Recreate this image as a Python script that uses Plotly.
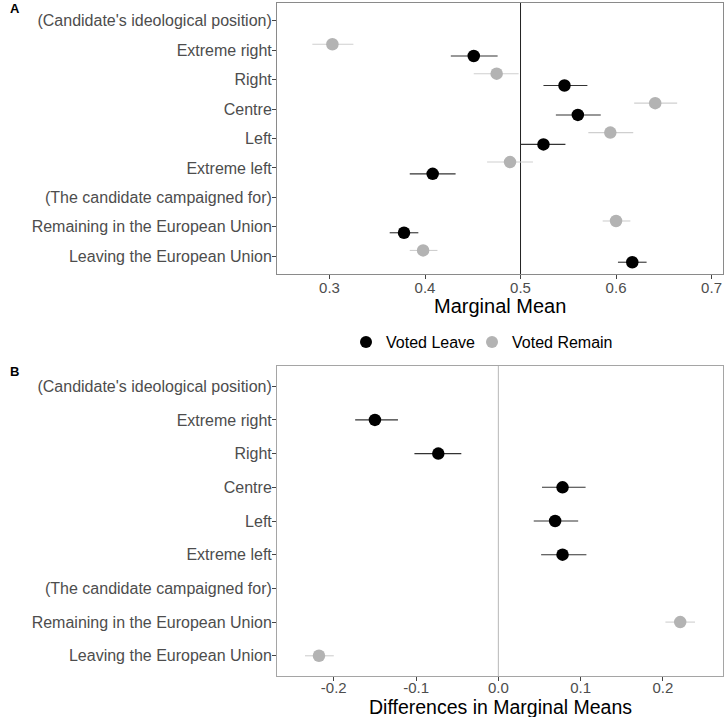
import plotly.graph_objects as go

# ---------------- data ----------------
categories = [
    "(Candidate's ideological position)",
    "Extreme right",
    "Right",
    "Centre",
    "Left",
    "Extreme left",
    "(The candidate campaigned for)",
    "Remaining in the European Union",
    "Leaving the European Union",
]
attribute = ["ideology"] * 6 + ["eu"] * 3

# Panel A: marginal means
leave_mm = [None, 0.451, 0.546, 0.560, 0.524, 0.408, None, 0.378, 0.617]
leave_lo = [None, 0.427, 0.524, 0.537, 0.500, 0.384, None, 0.363, 0.602]
leave_hi = [None, 0.476, 0.570, 0.584, 0.547, 0.432, None, 0.393, 0.632]

remain_mm = [None, 0.303, 0.475, 0.641, 0.594, 0.489, None, 0.600, 0.398]
remain_lo = [None, 0.282, 0.451, 0.619, 0.571, 0.465, None, 0.586, 0.384]
remain_hi = [None, 0.325, 0.498, 0.664, 0.618, 0.513, None, 0.615, 0.413]

# Panel B: differences in marginal means
diff_mm = [None, -0.150, -0.073, 0.078, 0.069, 0.078, None, 0.221, -0.218]
diff_lo = [None, -0.174, -0.102, 0.053, 0.043, 0.052, None, 0.203, -0.235]
diff_hi = [None, -0.122, -0.045, 0.106, 0.097, 0.107, None, 0.239, -0.200]

a_ticks = [0.3, 0.4, 0.5, 0.6, 0.7]
a_ticktext = ["0.3", "0.4", "0.5", "0.6", "0.7"]
b_ticks = [-0.2, -0.1, 0.0, 0.1, 0.2]
b_ticktext = ["-0.2", "-0.1", "0.0", "0.1", "0.2"]

# ---------------- style ----------------
FONT = "Liberation Sans, Arial, Helvetica, sans-serif"
BLACK = "#000000"
GREY = "#b3b3b3"
BLACK_ERR = "#333333"
GREY_ERR = "#cfcfcf"
DODGE = 0.2

W, H = 724, 717
n = len(categories)
ypos = [n - 1 - i for i in range(n)]


def err(mm, lo, hi):
    plus = [None if m is None else h - m for m, h in zip(mm, hi)]
    minus = [None if m is None else m - l for m, l in zip(mm, lo)]
    return plus, minus


fig = go.Figure()

# Panel A traces (each series in its own legend box so the two keys sit close)
for name, mm, lo, hi, col, ecol, off, leg in [
    ("Voted Leave", leave_mm, leave_lo, leave_hi, BLACK, BLACK_ERR, -DODGE, "legend"),
    ("Voted Remain", remain_mm, remain_lo, remain_hi, GREY, GREY_ERR, DODGE, "legend2"),
]:
    p, m = err(mm, lo, hi)
    fig.add_trace(go.Scatter(
        x=mm, y=[y + off for y in ypos], mode="markers", name=name,
        marker=dict(color=col, size=12.5),
        error_x=dict(type="data", array=p, arrayminus=m, color=ecol,
                     thickness=1.1, width=0, symmetric=False),
        xaxis="x", yaxis="y", showlegend=True, legend=leg,
    ))

# Panel B traces (split by attribute colour)
for attr, col, ecol in [("ideology", BLACK, BLACK_ERR), ("eu", GREY, GREY_ERR)]:
    xs = [v if a == attr else None for v, a in zip(diff_mm, attribute)]
    los = [v if a == attr else None for v, a in zip(diff_lo, attribute)]
    his = [v if a == attr else None for v, a in zip(diff_hi, attribute)]
    p, m = err(xs, los, his)
    fig.add_trace(go.Scatter(
        x=xs, y=ypos, mode="markers",
        marker=dict(color=col, size=12.5),
        error_x=dict(type="data", array=p, arrayminus=m, color=ecol,
                     thickness=1.1, width=0, symmetric=False),
        xaxis="x2", yaxis="y2", showlegend=False,
    ))

x0, x1 = 277 / W, 723 / W
A_top, A_bot = 1 - 3 / H, 1 - 274 / H
B_top, B_bot = 1 - 366 / H, 1 - 676 / H

axis_common = dict(
    showgrid=False, zeroline=False, showline=True, mirror=True, automargin=False,
    ticks="outside", ticklen=4, tickcolor="#444444",
)
xtick_font = dict(family=FONT, size=15, color="#4d4d4d")
ycat_font = dict(family=FONT, size=16, color="#4d4d4d")

legend_common = dict(
    orientation="h", xanchor="left", yanchor="middle", y=1 - 342 / H,
    font=dict(family=FONT, size=16, color="black"),
    bgcolor="rgba(0,0,0,0)", itemsizing="constant",
)

fig.update_layout(
    width=W, height=H,
    margin=dict(l=0, r=0, t=0, b=0, autoexpand=False),
    paper_bgcolor="white", plot_bgcolor="white",
    font=dict(family=FONT),
    xaxis=dict(
        domain=[x0, x1], anchor="y", range=[0.245, 0.712],
        tickvals=a_ticks, ticktext=a_ticktext, linecolor="#8a8a8a",
        tickfont=xtick_font, ticklabelstandoff=-4, **axis_common,
    ),
    yaxis=dict(
        domain=[A_bot, A_top], anchor="x", range=[-0.6, n - 0.4],
        tickvals=ypos, ticktext=categories, linecolor="#8a8a8a",
        tickfont=ycat_font, ticklabelstandoff=-3, **axis_common,
    ),
    xaxis2=dict(
        domain=[x0, x1], anchor="y2", range=[-0.269, 0.273],
        tickvals=b_ticks, ticktext=b_ticktext, linecolor="#a5a5a5",
        tickfont=xtick_font, ticklabelstandoff=-6, **axis_common,
    ),
    yaxis2=dict(
        domain=[B_bot, B_top], anchor="x2", range=[-0.6, n - 0.4],
        tickvals=ypos, ticktext=categories, linecolor="#a5a5a5",
        tickfont=ycat_font, ticklabelstandoff=-3, **axis_common,
    ),
    legend=dict(x=346 / W, **legend_common),
    legend2=dict(x=472 / W, **legend_common),
    shapes=[
        dict(type="line", xref="x", yref="paper", x0=0.5, x1=0.5, y0=A_bot, y1=A_top,
             line=dict(color="#222222", width=1), layer="below"),
        dict(type="line", xref="x2", yref="paper", x0=0.0, x1=0.0, y0=B_bot, y1=B_top,
             line=dict(color="#b8b8b8", width=1), layer="below"),
    ],
    annotations=[
        dict(text="Marginal Mean", x=(x0 + x1) / 2, y=1 - 306 / H,
             xref="paper", yref="paper", xanchor="center", yanchor="middle",
             showarrow=False, font=dict(family=FONT, size=20, color="black")),
        dict(text="Differences in Marginal Means", x=(x0 + x1) / 2, y=1 - 706.5 / H,
             xref="paper", yref="paper", xanchor="center", yanchor="middle",
             showarrow=False, font=dict(family=FONT, size=19.5, color="black")),
        dict(text="<b>A</b>", x=8 / W, y=1 - 9 / H, xref="paper", yref="paper",
             xanchor="left", yanchor="middle", showarrow=False,
             font=dict(family=FONT, size=13, color="black")),
        dict(text="<b>B</b>", x=8 / W, y=1 - 371 / H, xref="paper", yref="paper",
             xanchor="left", yanchor="middle", showarrow=False,
             font=dict(family=FONT, size=13, color="black")),
    ],
)

# remove the default 8px page margin so the figure fills the window exactly
fig.write_html("out.html", config={"displayModeBar": False},
               post_script="document.body.style.margin='0px';")
